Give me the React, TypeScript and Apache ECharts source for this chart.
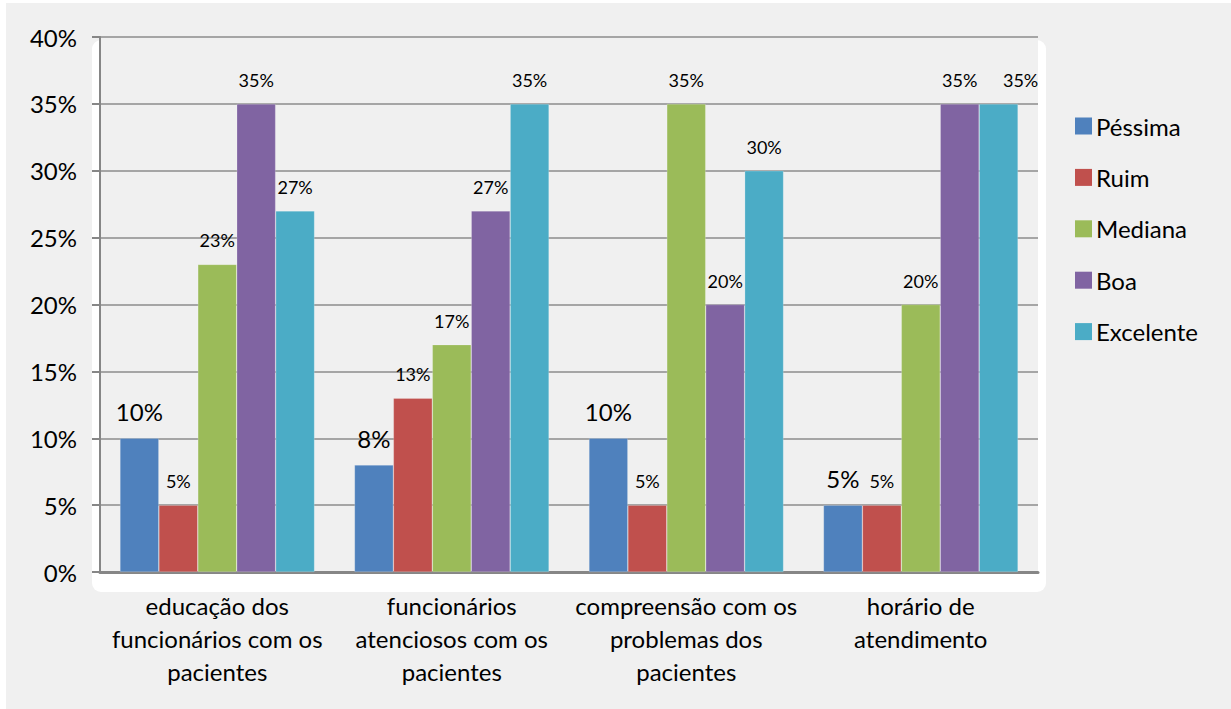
import React, { useEffect, useRef } from "react";
import * as echarts from "echarts";

const categories = [
  "educação dos\nfuncionários com os\npacientes",
  "funcionários\natenciosos com os\npacientes",
  "compreensão com os\nproblemas dos\npacientes",
  "horário de\natendimento",
];

const seriesNames = ["Péssima", "Ruim", "Mediana", "Boa", "Excelente"];
const seriesColors = ["#4f81bd", "#c0504d", "#9bbb59", "#8064a2", "#4bacc6"];

const pessima = [10, 8, 10, 5];
const ruim = [5, 13, 5, 5];
const mediana = [23, 17, 35, 20];
const boa = [35, 27, 20, 35];
const excelente = [27, 35, 30, 35];

const yTicks = [0, 5, 10, 15, 20, 25, 30, 35, 40];

const FONT = "Lato, 'Open Sans', sans-serif";

export default function App() {
  const ref = useRef<HTMLDivElement>(null);

  useEffect(() => {
    if (!ref.current) return;
    const chart = echarts.init(ref.current, undefined, { renderer: "svg" });
    const values = [pessima, ruim, mediana, boa, excelente];

    const series = values.map((vals, si) => ({
      name: seriesNames[si],
      type: "bar",
      barGap: "0%",
      barCategoryGap: "17%",
      itemStyle: {
        color: seriesColors[si],
        borderColor: "rgba(255,255,255,0.35)",
        borderWidth: 0.6,
      },
      label: {
        show: true,
        position: "top",
        distance: 15,
        color: "#000",
        fontFamily: FONT,
        fontSize: si === 0 ? 24 : 18,
        formatter: (p: any) => `${p.value}%`,
      },
      data: vals.map((v, ci) =>
        si === 4 && ci === 3 ? { value: v, label: { offset: [22, 0] } } : v
      ),
    }));

    chart.setOption({
      animation: false,
      backgroundColor: "#f0f0f0",
      textStyle: { fontFamily: FONT },
      graphic: [
        // outer white frame strips
        { type: "rect", z: -20, silent: true, shape: { x: 0, y: 0, width: 1231, height: 3 }, style: { fill: "#ffffff" } },
        { type: "rect", z: -20, silent: true, shape: { x: 0, y: 0, width: 6, height: 709 }, style: { fill: "#ffffff" } },
        // white rounded panel behind the plot
        {
          type: "rect",
          z: -10,
          silent: true,
          shape: { x: 92, y: 40, width: 954, height: 552, r: 9 },
          style: { fill: "#ffffff" },
        },
      ],
      grid: {
        left: 100,
        right: 193,
        top: 37,
        bottom: 137,
        show: true,
        backgroundColor: "#f0f0f0",
        borderWidth: 0,
      },
      legend: {
        orient: "vertical",
        left: 1070,
        top: 109,
        itemWidth: 17,
        itemHeight: 17,
        itemGap: 27.4,
        icon: "rect",
        data: seriesNames,
        textStyle: { fontFamily: FONT, fontSize: 24, color: "#000", padding: [0, 0, 0, -1] },
        itemStyle: { borderWidth: 0 },
      },
      xAxis: {
        type: "category",
        data: categories,
        axisLine: { show: true, lineStyle: { color: "#868686", width: 3 } },
        axisTick: { show: false },
        axisLabel: {
          color: "#000",
          fontFamily: FONT,
          fontSize: 24,
          lineHeight: 33,
          margin: 17,
          interval: 0,
        },
      },
      yAxis: {
        type: "value",
        min: yTicks[0],
        max: yTicks[yTicks.length - 1],
        interval: yTicks[1] - yTicks[0],
        axisLine: { show: true, lineStyle: { color: "#868686", width: 2 } },
        axisTick: { show: true, length: 8, lineStyle: { color: "#868686", width: 2 } },
        splitLine: { show: true, lineStyle: { color: "#8c8c8c", width: 1.5 } },
        axisLabel: {
          color: "#000",
          fontFamily: FONT,
          fontSize: 24,
          margin: 23,
          formatter: (v: number) => `${v}%`,
        },
      },
      series,
    });

    return () => chart.dispose();
  }, []);

  return (
    <div style={{ position: "absolute", left: 0, top: 0, margin: 0 }}>
      <div ref={ref} style={{ width: 1231, height: 709 }} />
    </div>
  );
}
